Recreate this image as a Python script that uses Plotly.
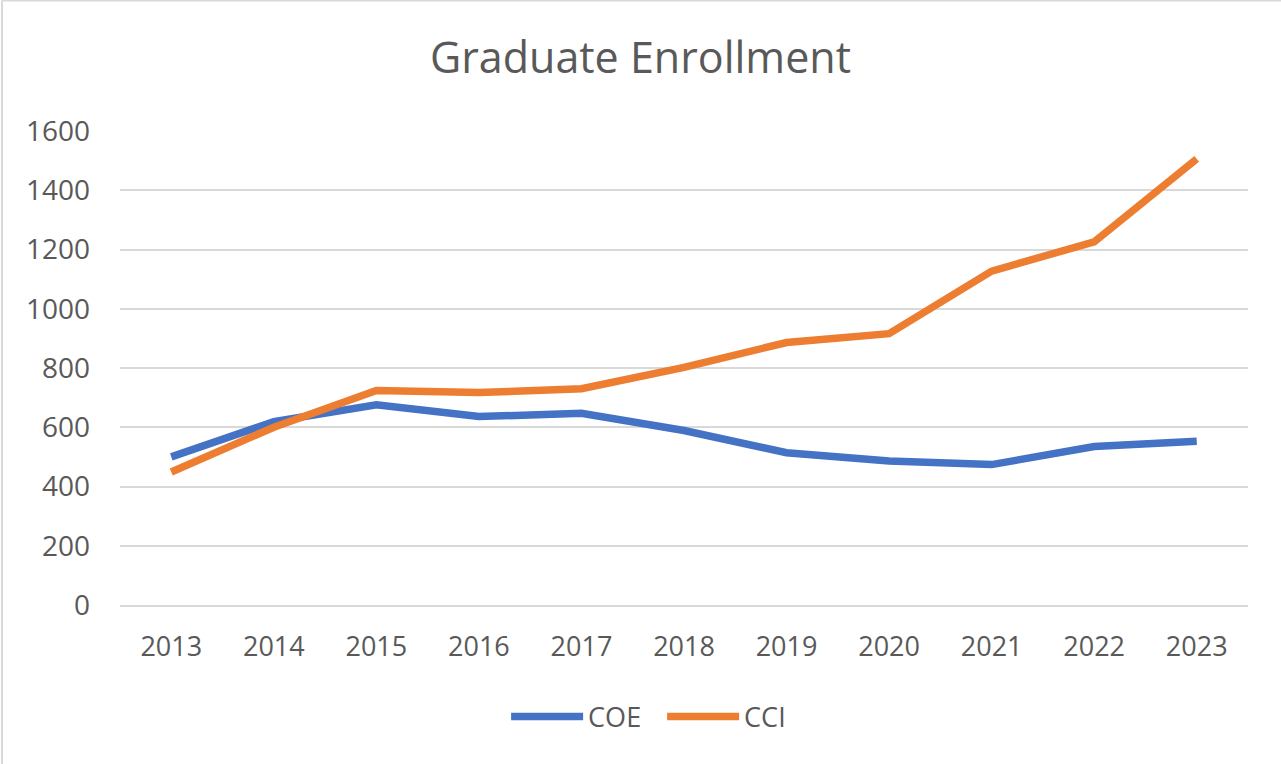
import plotly.graph_objects as go

FONT = "Open Sans"
GREY_TEXT = "#595959"
GRID = "#d9d9d9"

years = ["2013", "2014", "2015", "2016", "2017", "2018", "2019", "2020", "2021", "2022", "2023"]
coe = [500, 619, 676, 636, 647, 589, 514, 486, 474, 535, 553]
cci = [449, 600, 724, 717, 730, 802, 886, 916, 1127, 1226, 1506]
y_ticks = [0, 200, 400, 600, 800, 1000, 1200, 1400, 1600]

fig = go.Figure()
fig.add_trace(go.Scatter(x=years, y=coe, name="COE", mode="lines",
                         line=dict(color="#4472C4", width=7.5)))
fig.add_trace(go.Scatter(x=years, y=cci, name="CCI", mode="lines",
                         line=dict(color="#ED7D31", width=7.5)))

fig.update_layout(
    width=1281,
    height=764,
    margin=dict(l=120, r=33, t=131, b=159),
    paper_bgcolor="#ffffff",
    plot_bgcolor="#ffffff",
    font=dict(family=FONT, color=GREY_TEXT, size=27),
    title=dict(text="Graduate Enrollment", x=0.5, xanchor="center",
               y=1 - 58 / 764, yanchor="middle", yref="container",
               font=dict(family=FONT, size=43, color=GREY_TEXT)),
    legend=dict(orientation="h", x=0.4806, xanchor="center", y=-0.236, yanchor="middle",
                font=dict(size=27, color=GREY_TEXT), itemwidth=72,
                entrywidth=69, entrywidthmode="pixels"),
    showlegend=True,
)
fig.update_xaxes(type="category", range=[-0.5, 10.5], showgrid=False,
                 showline=True, linecolor=GRID, linewidth=2, ticks="",
                 ticklabelstandoff=17, tickfont=dict(size=27, color=GREY_TEXT))
fig.update_yaxes(range=[0, 1600], tickvals=y_ticks, showgrid=True, gridcolor=GRID,
                 gridwidth=2, zeroline=False, showline=False, ticks="",
                 ticklabelstandoff=29, tickfont=dict(size=28, color=GREY_TEXT))

# thin chart-area border along the left and top edges
fig.add_shape(type="line", xref="paper", yref="paper",
              x0=(2 - 120) / 1128, x1=(2 - 120) / 1128, y0=(605 - 764) / 474, y1=(605 - 0.5) / 474,
              line=dict(color=GRID, width=2))
fig.add_shape(type="line", xref="paper", yref="paper",
              x0=(2 - 120) / 1128, x1=(1281 - 120) / 1128, y0=(605 - 0.5) / 474, y1=(605 - 0.5) / 474,
              line=dict(color=GRID, width=2))

fig.write_html("out.html", config={"displayModeBar": False},
               post_script="document.body.style.margin='0px';")
